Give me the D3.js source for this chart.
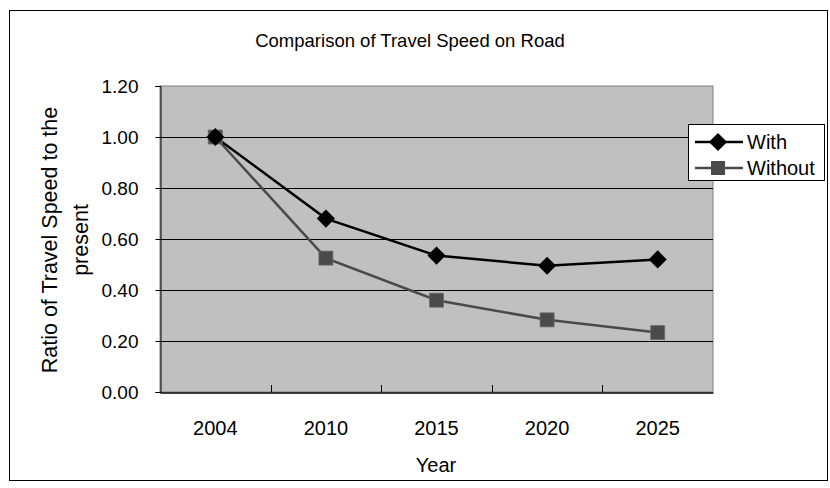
<!DOCTYPE html>
<html>
<head>
<meta charset="utf-8">
<script src="https://cdn.jsdelivr.net/npm/d3@7"></script>
<style>
  html, body { margin: 0; padding: 0; background: #fff; }
  svg { display: block; }
  text { font-family: "Liberation Sans", Arial, sans-serif; fill: #000; }
</style>
</head>
<body>
<svg id="chart" width="830" height="488"></svg>
<script>
// Travel speed ratio relative to 2004, with and without the road project
const years = ["2004", "2010", "2015", "2020", "2025"];
const withValues = [1.00, 0.68, 0.535, 0.495, 0.52];
const withoutValues = [1.00, 0.525, 0.36, 0.283, 0.233];
const yTicks = [0, 0.2, 0.4, 0.6, 0.8, 1.0, 1.2];
const seriesNames = ["With", "Without"];

const plot = { left: 160, right: 713, top: 86, bottom: 392 };

const svg = d3.select("#chart");

// outer frame
svg.append("rect")
  .attr("x", 9.5).attr("y", 10.5)
  .attr("width", 818).attr("height", 470)
  .attr("fill", "#fff").attr("stroke", "#000").attr("stroke-width", 1);

const x = d3.scaleBand().domain(years).range([plot.left, plot.right]);
const y = d3.scaleLinear().domain([0, 1.2]).range([plot.bottom, plot.top]);

// plot background
svg.append("rect")
  .attr("x", plot.left).attr("y", plot.top)
  .attr("width", plot.right - plot.left).attr("height", plot.bottom - plot.top)
  .attr("fill", "#c0c0c0").attr("stroke", "#808080").attr("stroke-width", 1);

// horizontal gridlines
svg.append("g")
  .selectAll("line")
  .data(yTicks.filter(v => v > 0 && v < 1.2))
  .join("line")
  .attr("x1", plot.left).attr("x2", plot.right)
  .attr("y1", d => Math.round(y(d)) + 0.5).attr("y2", d => Math.round(y(d)) + 0.5)
  .attr("stroke", "#000").attr("stroke-width", 1);

// y axis
const yAxis = svg.append("g")
  .attr("transform", `translate(${plot.left + 0.5},0)`)
  .call(d3.axisLeft(y).tickValues(yTicks).tickFormat(d3.format(".2f")).tickSize(5).tickPadding(17));
yAxis.select(".domain").attr("stroke", "#000");
yAxis.selectAll(".tick text").style("font-size", "19px").attr("fill", "#000");
yAxis.selectAll(".tick line").attr("stroke", "#000");

// x axis with tick marks between categories, pointing into the plot
const xAxis = svg.append("g")
  .attr("transform", `translate(0,${plot.bottom + 0.5})`)
  .call(d3.axisBottom(x).tickSize(0).tickPadding(28));
xAxis.select(".domain").attr("stroke", "#000").attr("stroke-width", 1.5);
xAxis.selectAll(".tick text").style("font-size", "20px").attr("fill", "#000");
svg.append("g")
  .selectAll("line")
  .data(years.slice(1))
  .join("line")
  .attr("x1", d => Math.round(x(d)) + 0.5).attr("x2", d => Math.round(x(d)) + 0.5)
  .attr("y1", plot.bottom - 7).attr("y2", plot.bottom)
  .attr("stroke", "#000");

// title and axis titles
svg.append("text")
  .attr("x", 410).attr("y", 47)
  .attr("text-anchor", "middle")
  .style("font-size", "18.5px")
  .text("Comparison of Travel Speed on Road");

svg.append("text")
  .attr("x", 436).attr("y", 472)
  .attr("text-anchor", "middle")
  .style("font-size", "20px")
  .text("Year");

const yTitle = svg.append("text")
  .attr("transform", "translate(57,240) rotate(-90)")
  .attr("text-anchor", "middle")
  .style("font-size", "21.5px");
yTitle.append("tspan").attr("x", 0).attr("dy", 0).text("Ratio of Travel Speed to the");
yTitle.append("tspan").attr("x", 0).attr("dy", 31).text("present");

// series
const cx = d => x(d) + x.bandwidth() / 2;
const line = d3.line().x((d, i) => cx(years[i])).y(d => y(d));

const withoutColor = "#4a4a4a";

svg.append("path")
  .datum(withoutValues)
  .attr("d", line)
  .attr("fill", "none").attr("stroke", withoutColor).attr("stroke-width", 2.5);

svg.append("path")
  .datum(withValues)
  .attr("d", line)
  .attr("fill", "none").attr("stroke", "#000").attr("stroke-width", 2.5);

const squareSym = d3.symbol().type(d3.symbolSquare).size(196);
const diamondSym = d3.symbol().type(d3.symbolDiamond2).size(210);

svg.append("g")
  .selectAll("path")
  .data(withoutValues)
  .join("path")
  .attr("transform", (d, i) => `translate(${cx(years[i])},${y(d)})`)
  .attr("d", squareSym)
  .attr("fill", withoutColor).attr("stroke", "#6a6a6a").attr("stroke-width", 0.8);

svg.append("g")
  .selectAll("path")
  .data(withValues)
  .join("path")
  .attr("transform", (d, i) => `translate(${cx(years[i])},${y(d)})`)
  .attr("d", diamondSym)
  .attr("fill", "#000");

// legend
const legend = svg.append("g");
legend.append("rect")
  .attr("x", 688.5).attr("y", 124.5)
  .attr("width", 136).attr("height", 56)
  .attr("fill", "#fff").attr("stroke", "#000").attr("stroke-width", 1);

const legendRows = [
  { name: seriesNames[0], color: "#000", sym: diamondSym, y: 142 },
  { name: seriesNames[1], color: withoutColor, sym: squareSym, y: 168 }
];
legendRows.forEach(r => {
  legend.append("line")
    .attr("x1", 695).attr("x2", 743)
    .attr("y1", r.y).attr("y2", r.y)
    .attr("stroke", r.color).attr("stroke-width", 2.5);
  legend.append("path")
    .attr("transform", `translate(718,${r.y})`)
    .attr("d", r.sym)
    .attr("fill", r.color);
  legend.append("text")
    .attr("x", 747).attr("y", r.y + 7)
    .style("font-size", "20px")
    .text(r.name);
});
</script>
</body>
</html>
